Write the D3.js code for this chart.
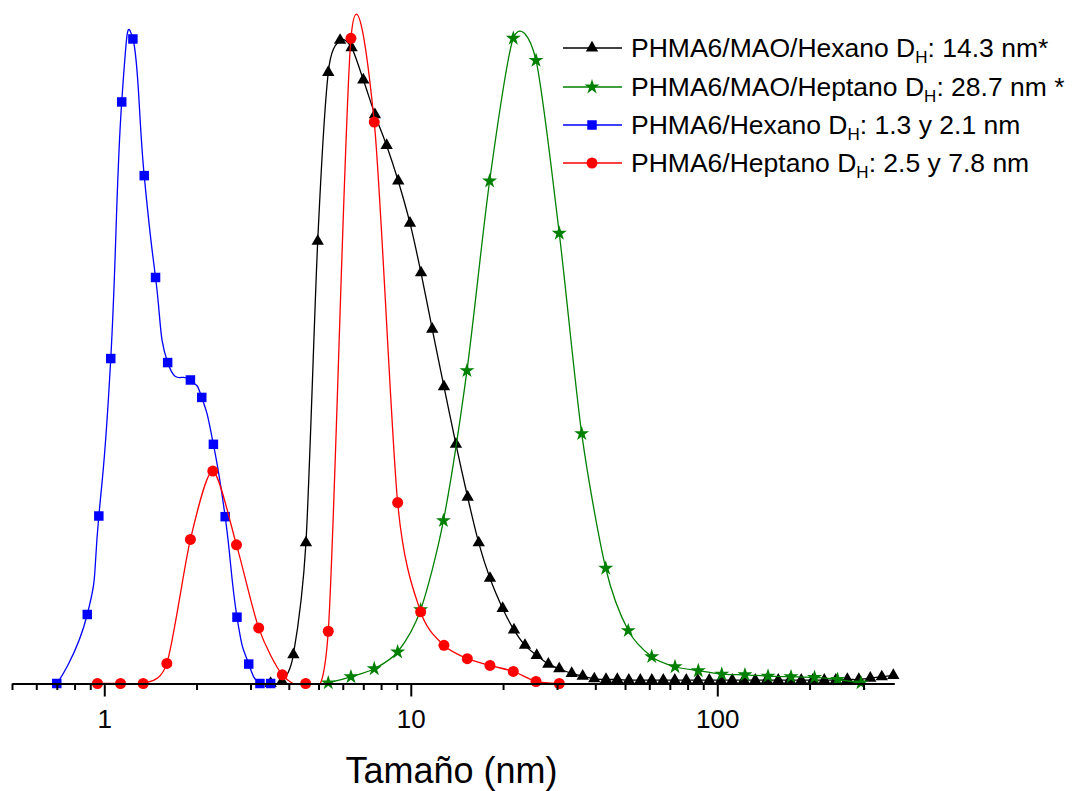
<!DOCTYPE html>
<html>
<head>
<meta charset="utf-8">
<script src="https://cdn.jsdelivr.net/npm/d3@7"></script>
<style>
  body { margin: 0; background: #fff; }
  text { font-family: "Liberation Sans", Arial, sans-serif; }
</style>
</head>
<body>
<script>
"use strict";

// size (nm) and intensity for each sample
var maoHexanoSize = [3.49, 3.80, 4.14, 4.55, 4.97, 5.38, 5.88, 6.41, 7.00, 7.64,
  8.34, 9.10, 9.94, 10.80, 11.75, 12.83, 14.04, 15.33, 16.66, 18.13,
  19.94, 21.71, 23.58, 25.76, 28.10, 30.51, 33.50, 36.38, 39.69, 43.35,
  47.18, 51.44, 56.09, 61.15, 66.66, 72.66, 79.23, 86.38, 94.17, 102.7,
  111.9, 122.0, 133.0, 145.0, 158.1, 172.4, 187.9, 204.9, 223.4, 243.6,
  265.6, 289.5, 315.6, 344.1, 375.2];
var maoHexanoInt = [0, 0.3, 4.3, 21.0, 66.0, 91.2, 96.0, 94.9, 90.1, 84.9,
  80.3, 75.0, 68.7, 61.3, 52.9, 44.3, 35.7, 27.8, 21.0, 15.7,
  11.2, 8.0, 5.7, 4.2, 2.9, 2.2, 1.5, 1.1, 0.7, 0.6,
  0.6, 0.5, 0.5, 0.5, 0.5, 0.5, 0.5, 0.5, 0.5, 0.5,
  0.5, 0.5, 0.5, 0.5, 0.5, 0.5, 0.5, 0.5, 0.5, 0.5,
  0.6, 0.6, 0.8, 1.0, 1.2];

var maoHeptanoSize = [5.38, 6.38, 7.60, 9.06, 10.77, 12.78, 15.25, 18.08, 21.60, 25.62,
  30.51, 36.11, 43.25, 51.23, 61.10, 72.78, 86.70, 103.4, 123.1, 146.4,
  174.0, 207.6, 246.8, 294.3];
var maoHeptanoInt = [0.1, 1.0, 2.2, 4.7, 11.0, 24.3, 46.7, 75.0, 96.3, 93.0,
  67.2, 37.3, 17.2, 7.9, 4.0, 2.5, 1.9, 1.4, 1.3, 1.1,
  1.0, 0.9, 0.6, 0.1];

var hexanoSize = [0.70, 0.88, 0.96, 1.05, 1.14, 1.24, 1.35, 1.47, 1.61, 1.91,
  2.08, 2.27, 2.48, 2.71, 2.96, 3.22, 3.49];
var hexanoInt = [0, 10.3, 25.0, 48.5, 86.8, 96.2, 75.8, 60.6, 47.9, 45.3,
  42.7, 35.7, 24.9, 9.9, 2.9, 0, 0];

var heptanoSize = [0.95, 1.13, 1.34, 1.60, 1.91, 2.26, 2.70, 3.19, 3.81, 4.54,
  5.38, 6.38, 7.60, 9.06, 10.77, 12.83, 15.29, 18.13, 21.60, 25.62, 30.51];
var heptanoInt = [0, 0, 0, 3.0, 21.5, 31.7, 20.7, 8.3, 1.3, 0,
  7.8, 96.3, 83.8, 27.0, 10.7, 5.7, 3.7, 2.7, 1.8, 0.3, 0];

var legendNames = ["PHMA6/MAO/Hexano D", "PHMA6/MAO/Heptano D", "PHMA6/Hexano D", "PHMA6/Heptano D"];
var legendTails = [": 14.3 nm*", ": 28.7 nm *", ": 1.3 y 2.1 nm", ": 2.5 y 7.8 nm"];

var majorTicks = [1, 10, 100];
var minorTicks = [0.5, 0.6, 0.7, 0.8, 0.9, 2, 3, 4, 5, 6, 7, 8, 9,
  20, 30, 40, 50, 60, 70, 80, 90, 200, 300];

var width = 1072, height = 791;
var base = 683.5;

var svg = d3.select("body").append("svg")
  .attr("width", width)
  .attr("height", height);

svg.append("rect").attr("width", width).attr("height", height).attr("fill", "#fff");

var x = d3.scaleLog().domain([0.5, 378]).range([12, 894.3]);
var y = d3.scaleLinear().domain([0, 100]).range([base, 13.5]);

// series in plot order (last one on top)
var series = [
  {size: maoHexanoSize, val: maoHexanoInt, color: "#000000", sym: d3.symbolTriangle, area: 66, tension: 0.2},
  {size: maoHeptanoSize, val: maoHeptanoInt, color: "#008000", sym: d3.symbolStar, area: 70, tension: 0.2},
  {size: hexanoSize, val: hexanoInt, color: "#0000ff", sym: d3.symbolSquare, area: 90, tension: -0.5},
  {size: heptanoSize, val: heptanoInt, color: "#ff0000", sym: d3.symbolCircle, area: 95, tension: 0.2}
];

svg.append("clipPath").attr("id", "clip")
  .append("rect").attr("x", 0).attr("y", 0).attr("width", width).attr("height", base);

series.forEach(function(s) {
  var pts = s.size.map(function(v, i) { return [v, s.val[i]]; });
  // spline through the points, with some overshoot at the peaks
  var line = d3.line()
    .x(function(d) { return x(d[0]); })
    .y(function(d) { return y(d[1]); })
    .curve(d3.curveCardinal.tension(s.tension));
  var g = svg.append("g");
  g.append("path")
    .datum(pts)
    .attr("clip-path", "url(#clip)")
    .attr("fill", "none")
    .attr("stroke", s.color)
    .attr("stroke-width", 1.3)
    .attr("d", line);
  g.selectAll("path.m")
    .data(pts)
    .enter().append("path")
    .attr("class", "m")
    .attr("transform", function(d) { return "translate(" + x(d[0]) + "," + y(d[1]) + ")"; })
    .attr("d", d3.symbol().type(s.sym).size(s.area))
    .attr("fill", s.color);
});

// x axis
var minorAxis = d3.axisBottom(x).tickValues(minorTicks).tickSize(6.5).tickSizeOuter(0).tickFormat("");
var majorAxis = d3.axisBottom(x).tickValues(majorTicks).tickSize(13).tickSizeOuter(0)
  .tickPadding(13).tickFormat(d3.format("d"));

var gMinor = svg.append("g").attr("transform", "translate(0," + base + ")").call(minorAxis);
gMinor.select(".domain").remove();
gMinor.selectAll("line").attr("stroke-width", 2);

var gMajor = svg.append("g").attr("transform", "translate(0," + base + ")").call(majorAxis);
gMajor.select(".domain").attr("stroke-width", 2);
gMajor.selectAll("line").attr("stroke-width", 2);
gMajor.selectAll("text")
  .attr("font-size", 26)
  .attr("font-family", "'Liberation Sans', Arial, sans-serif")
  .attr("fill", "#000");

svg.append("text")
  .attr("x", 451.5)
  .attr("y", 783)
  .attr("text-anchor", "middle")
  .attr("font-size", 36)
  .text("Tamaño (nm)");

// legend
var legY = [48, 87, 125, 163];
series.forEach(function(s, i) {
  var g = svg.append("g").attr("transform", "translate(0," + legY[i] + ")");
  g.append("line")
    .attr("x1", 563).attr("x2", 622)
    .attr("stroke", s.color).attr("stroke-width", 1.3);
  g.append("path")
    .attr("transform", "translate(592,0)")
    .attr("d", d3.symbol().type(s.sym).size(s.area))
    .attr("fill", s.color);
  var t = g.append("text").attr("x", 631).attr("y", 9).attr("font-size", 26.5);
  t.append("tspan").text(legendNames[i]);
  t.append("tspan").attr("font-size", 17).attr("dy", 6).text("H");
  t.append("tspan").attr("dy", -6).text(legendTails[i]);
});
</script>
</body>
</html>
